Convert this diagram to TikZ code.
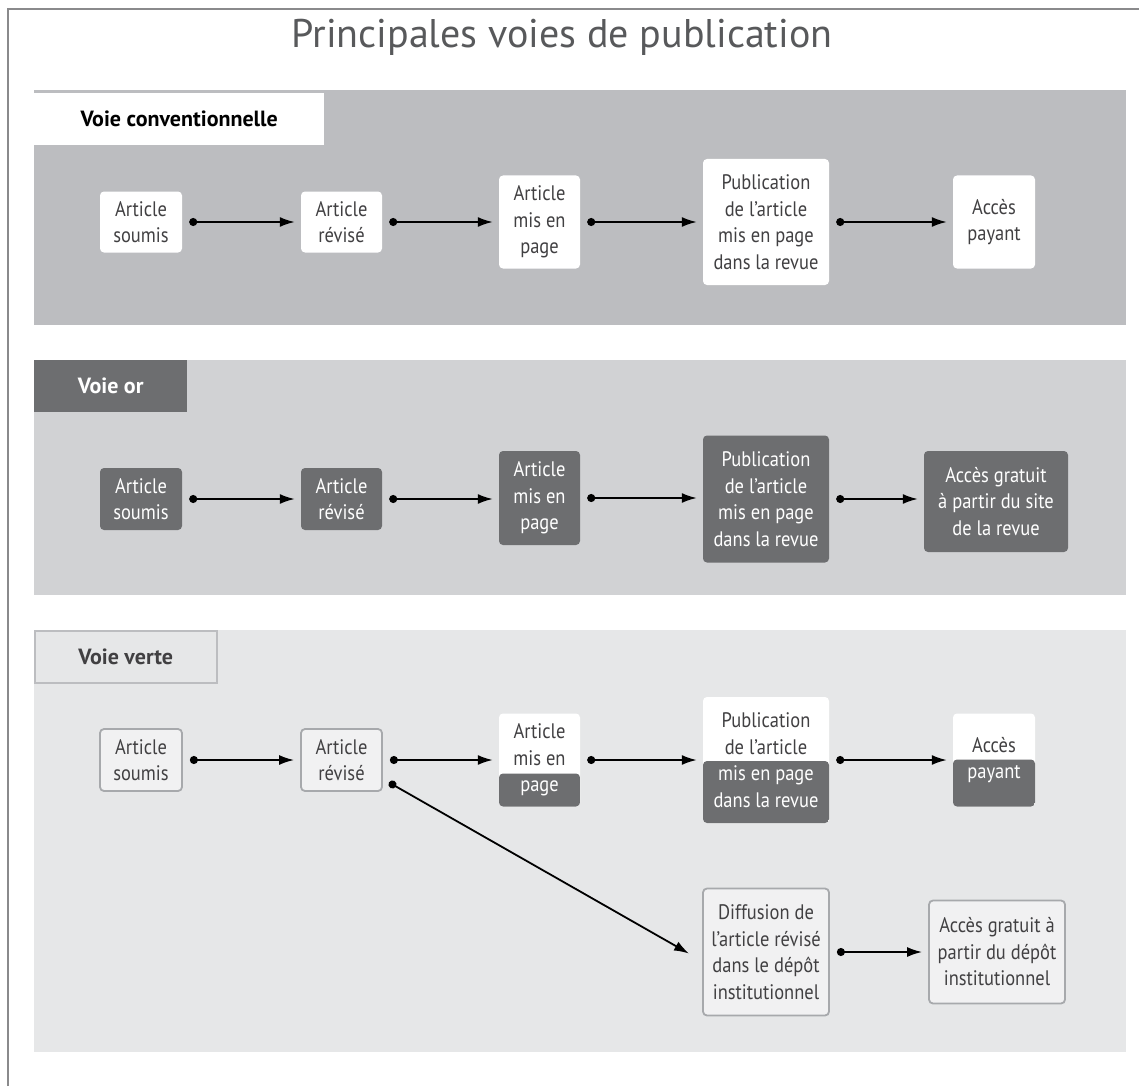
\documentclass[tikz,border=0pt]{standalone}
\usepackage{fontspec}
\setmainfont{PT Sans}[FakeStretch=0.88]
\newfontfamily\widefont{PT Sans}
\usetikzlibrary{positioning, calc, arrows.meta}
\definecolor{paneldark}{HTML}{BCBDC0}
\definecolor{panelmid}{HTML}{D1D2D4}
\definecolor{panellight}{HTML}{E6E7E8}
\definecolor{boxdark}{HTML}{6D6E70}
\definecolor{boxlight}{HTML}{F1F1F2}
\definecolor{boxline}{HTML}{A7A9AC}
\definecolor{textgray}{HTML}{414042}
\definecolor{titlegray}{HTML}{58595B}
\definecolor{framegray}{HTML}{8A8A8C}

\begin{document}
\begin{tikzpicture}[x=1pt, y=-1pt,
	box/.style={rounded corners=4pt, align=center, inner sep=0pt, font=\fontsize{21}{26.5}\selectfont},
	wbox/.style={box, fill=white, text=textgray},
	dbox/.style={box, fill=boxdark, text=white},
	gbox/.style={box, fill=boxlight, draw=boxline, line width=1.8pt, text=textgray},
	halfdark/.style={path picture={\fill[boxdark, rounded corners=4pt] (path picture bounding box.south west) rectangle ([yshift=#1]path picture bounding box.south east);}},
	tab/.style={anchor=north west, inner sep=0pt, font=\widefont\fontsize{22}{26}\selectfont\bfseries},
	link/.style={{Circle[length=8pt]}-{Latex[length=15pt, width=10pt]}, line width=1.8pt, shorten <=7pt, shorten >=6pt}]
	\useasboundingbox (0,0) rectangle (1139,1086);
	\draw[framegray, line width=2pt] (8,1086) -- (8,9) -- (1139,9);
	\node[font=\widefont\fontsize{40}{44}\selectfont, text=titlegray] (title) at (562,37) {Principales voies de publication};
	
	% voie conventionnelle
	\fill[paneldark] (34,90) rectangle (1126,325);
	\node[tab, fill=white, text=black, minimum width=290pt, minimum height=52pt] (tconv) at (34,93) {Voie conventionnelle};
	\node[wbox, minimum width=82pt, minimum height=61pt] (c1) at (141,222) {Article\\soumis};
	\node[wbox, minimum width=81pt, minimum height=61pt] (c2) at (341.5,222) {Article\\révisé};
	\node[wbox, minimum width=81pt, minimum height=93pt] (c3) at (539.5,222) {Article\\mis en\\page};
	\node[wbox, minimum width=126pt, minimum height=126pt] (c4) at (766,222) {Publication\\de l’article\\mis en page\\dans la revue};
	\node[wbox, minimum width=82pt, minimum height=93pt] (c5) at (994,222) {Accès\\payant};
	\foreach \a/\b in {c1/c2, c2/c3, c3/c4, c4/c5}
		\draw[link] (\a.east) -- (\a.east -| \b.west);
	
	% voie or
	\fill[panelmid] (34,360) rectangle (1126,595);
	\node[tab, fill=boxdark, text=white, minimum width=153pt, minimum height=52pt] (tor) at (34,360) {Voie or};
	\node[dbox, minimum width=82pt, minimum height=62pt] (o1) at (141,499) {Article\\soumis};
	\node[dbox, minimum width=81pt, minimum height=62pt] (o2) at (341.5,499) {Article\\révisé};
	\node[dbox, minimum width=81pt, minimum height=94pt] (o3) at (539.5,498) {Article\\mis en\\page};
	\node[dbox, minimum width=126pt, minimum height=127pt] (o4) at (766,499) {Publication\\de l’article\\mis en page\\dans la revue};
	\node[dbox, minimum width=144pt, minimum height=101pt] (o5) at (996,501.5) {Accès gratuit\\à partir du site\\de la revue};
	\foreach \a/\b in {o1/o2, o2/o3, o3/o4, o4/o5}
		\draw[link] (\a.east) -- (\a.east -| \b.west);
	
	% voie verte
	\fill[panellight] (34,630) rectangle (1126,1052);
	\node[tab, fill=panellight, draw=paneldark, line width=1.5pt, text=textgray, minimum width=182pt, minimum height=52pt] (tvert) at (34,630) {Voie verte};
	\node[gbox, minimum width=82pt, minimum height=62pt] (v1) at (141,760) {Article\\soumis};
	\node[gbox, minimum width=81pt, minimum height=62pt] (v2) at (341.5,760) {Article\\révisé};
	\node[wbox, halfdark=33pt, minimum width=81pt, minimum height=93pt] (v3) at (539.5,760) {Article\\mis en\\\textcolor{white}{page}};
	\node[wbox, halfdark=62pt, minimum width=126pt, minimum height=126pt] (v4) at (766,760) {Publication\\de l’article\\\textcolor{white}{mis en page}\\\textcolor{white}{dans la revue}};
	\node[wbox, halfdark=47pt, minimum width=82pt, minimum height=93pt] (v5) at (994,760) {Accès\\\textcolor{white}{payant}};
	\node[gbox, minimum width=126pt, minimum height=127pt] (v6) at (766,952) {Diffusion de\\l’article révisé\\dans le dépôt\\institutionnel};
	\node[gbox, minimum width=136pt, minimum height=103pt] (v7) at (997,952) {Accès gratuit à\\partir du dépôt\\institutionnel};
	\foreach \a/\b in {v1/v2, v2/v3, v3/v4, v4/v5, v6/v7}
		\draw[link] (\a.east) -- (\a.east -| \b.west);
	\draw[link, shorten >=15pt] ([yshift=-19pt]v2.east) -- ([yshift=-9pt]v6.west);
\end{tikzpicture}
\end{document}
